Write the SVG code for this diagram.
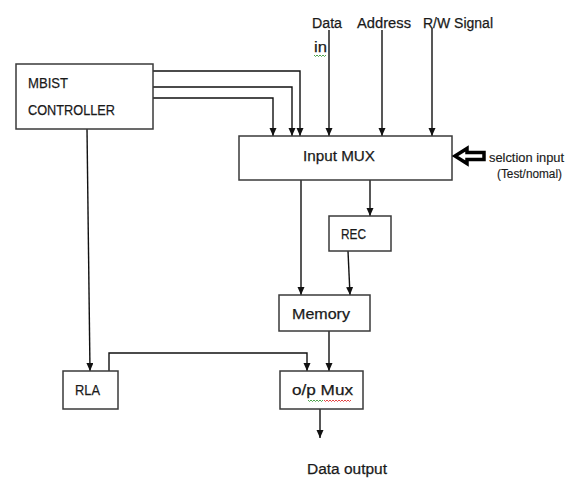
<svg xmlns="http://www.w3.org/2000/svg" width="565" height="478" viewBox="0 0 565 478">
<style>
.box{fill:#fff;stroke:#3a3a3a;stroke-width:1.5}
.t{font-family:"Liberation Sans",Arial,sans-serif;font-size:15px;fill:#1a1a1a;stroke:#1a1a1a;stroke-width:0.25}
.tl{font-family:"Liberation Sans",Arial,sans-serif;font-size:15.5px;fill:#1a1a1a;stroke:#1a1a1a;stroke-width:0.25}
.ts{font-family:"Liberation Sans",Arial,sans-serif;font-size:12.5px;fill:#1a1a1a;stroke:#1a1a1a;stroke-width:0.15}
.c{fill:none;stroke:#111;stroke-width:1.4;marker-end:url(#ah)}
.sq{fill:none;stroke-width:0.9}
</style>
<defs>
<marker id="ah" markerUnits="userSpaceOnUse" markerWidth="8" markerHeight="8" refX="8" refY="3.5" orient="auto">
<path d="M0,0 L8,3.5 L0,7 z" fill="#111"/>
</marker>
</defs>
<rect width="565" height="478" fill="#fff"/>
<g id="connectors">
<path class="c" d="M153,71 H300 V136"/>
<path class="c" d="M153,87 H292 V136"/>
<path class="c" d="M153,98 H273 V136"/>
<path class="c" d="M329,30 V136"/>
<path class="c" d="M382,30 V136"/>
<path class="c" d="M432,28 V136"/>
<path class="c" d="M301,180 V295"/>
<path class="c" d="M370,180 V216"/>
<path class="c" d="M348,251 L350,295"/>
<path class="c" d="M329,331 V371"/>
<path class="c" d="M109,371 V353 H307 V371"/>
<path class="c" d="M87,129 L90,371"/>
<path class="c" d="M320,409 V438"/>
</g>
<g id="labels">
<text class="tl" x="312" y="28" textLength="30" lengthAdjust="spacingAndGlyphs">Data</text>
<text class="tl" x="314" y="52" textLength="13" lengthAdjust="spacingAndGlyphs">in</text>
<path class="sq" stroke="#3a9a3a" d="M314,55 l1.5,1.5 l1.5,-1.5 l1.5,1.5 l1.5,-1.5 l1.5,1.5 l1.5,-1.5 l1.5,1.5 l1.5,-1.5"/>
<text class="tl" x="357" y="28" textLength="54" lengthAdjust="spacingAndGlyphs">Address</text>
<text class="tl" x="423" y="28" textLength="70" lengthAdjust="spacingAndGlyphs">R/W Signal</text>
</g>
<g id="mbist">
<rect class="box" x="16" y="64" width="137" height="65"/>
<text class="t" x="28" y="88" textLength="40" lengthAdjust="spacingAndGlyphs">MBIST</text>
<text class="t" x="28" y="115" textLength="87" lengthAdjust="spacingAndGlyphs">CONTROLLER</text>
</g>
<g id="input-mux">
<rect class="box" x="239" y="136" width="213" height="44"/>
<text class="t" x="303" y="161" textLength="72" lengthAdjust="spacingAndGlyphs">Input MUX</text>
</g>
<g id="selection">
<polygon points="455,156 467,148.5 467,152.5 484,152.5 484,159.5 467,159.5 467,163.5" fill="#fff" stroke="#000" stroke-width="3.5" stroke-linejoin="miter"/>
<text class="ts" x="489" y="162" textLength="75" lengthAdjust="spacingAndGlyphs">selction input</text>
<text class="ts" x="497" y="178" textLength="65" lengthAdjust="spacingAndGlyphs">(Test/nomal)</text>
</g>
<g id="rec">
<rect class="box" x="329" y="216" width="62" height="35"/>
<text class="t" x="341" y="239" textLength="25" lengthAdjust="spacingAndGlyphs">REC</text>
</g>
<g id="memory">
<rect class="box" x="279" y="295" width="91" height="36"/>
<text class="t" x="292" y="319" textLength="58" lengthAdjust="spacingAndGlyphs">Memory</text>
</g>
<g id="rla">
<rect class="box" x="63" y="371" width="55" height="38"/>
<text class="t" x="75" y="395" textLength="25" lengthAdjust="spacingAndGlyphs">RLA</text>
</g>
<g id="op-mux">
<rect class="box" x="280" y="371" width="83" height="38"/>
<text class="t" x="292" y="395" textLength="61" lengthAdjust="spacingAndGlyphs">o/p Mux</text>
<path class="sq" stroke="#3a9a3a" d="M308,400 l1.5,1.5 l1.5,-1.5 l1.5,1.5 l1.5,-1.5 l1.5,1.5 l1.5,-1.5 l1.5,1.5 l1.5,-1.5 l1.5,1.5 l1.5,-1.5"/>
<path class="sq" stroke="#e03030" d="M324,400 l1.5,1.5 l1.5,-1.5 l1.5,1.5 l1.5,-1.5 l1.5,1.5 l1.5,-1.5 l1.5,1.5 l1.5,-1.5 l1.5,1.5 l1.5,-1.5 l1.5,1.5 l1.5,-1.5 l1.5,1.5 l1.5,-1.5 l1.5,1.5 l1.5,-1.5 l1.5,1.5 l1.5,-1.5"/>
</g>
<g id="data-output">
<text class="tl" x="307" y="474" textLength="80" lengthAdjust="spacingAndGlyphs">Data output</text>
</g>
</svg>
